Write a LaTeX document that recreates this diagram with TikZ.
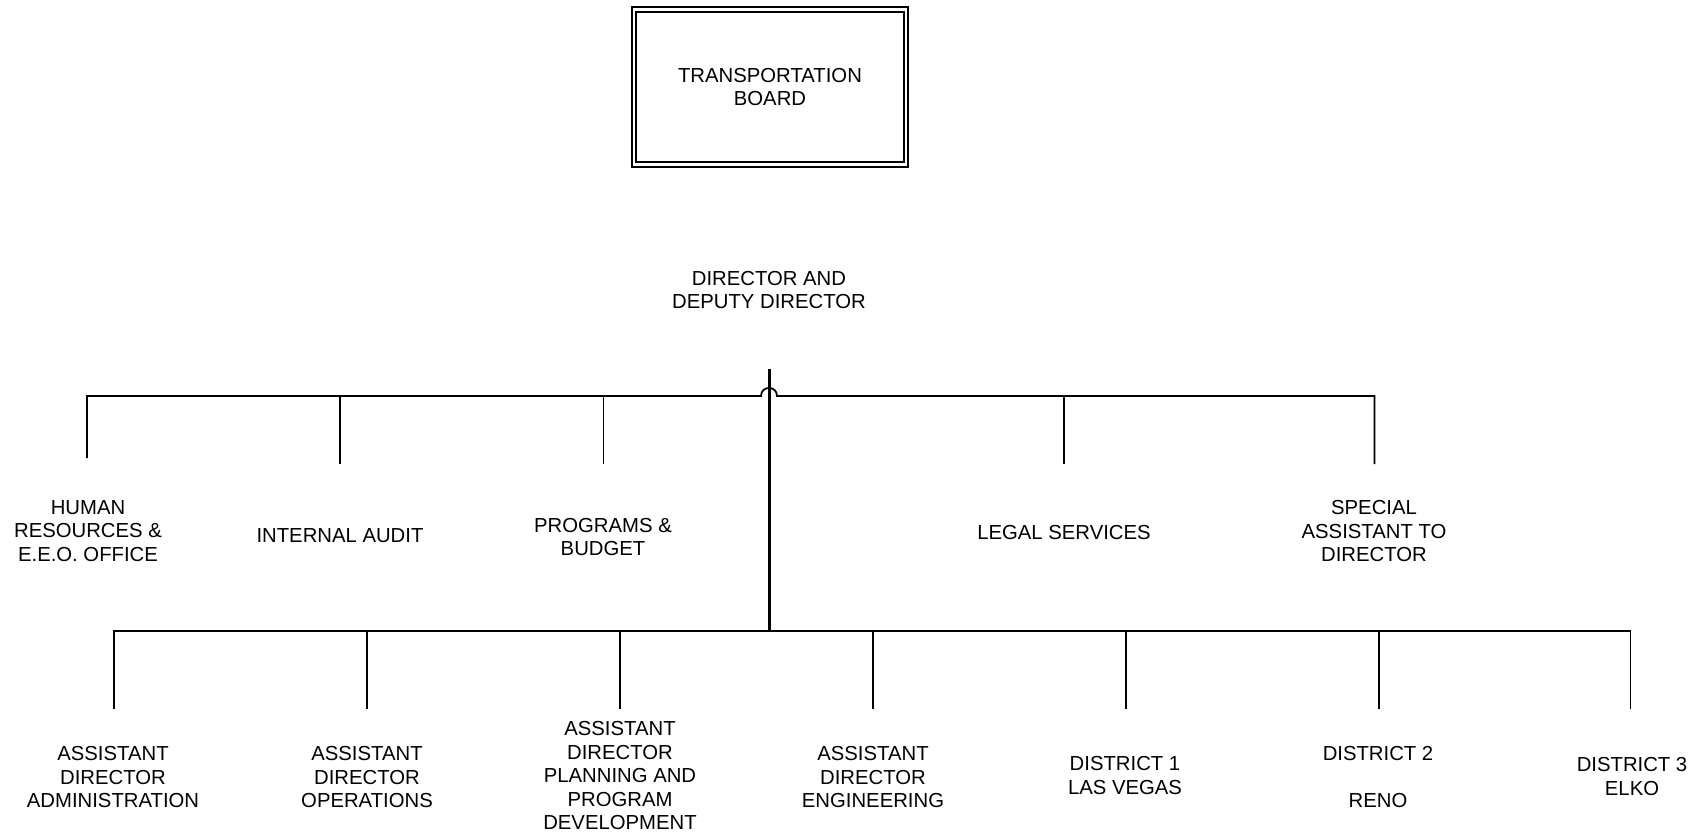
\documentclass[tikz,border=0pt]{standalone}
\usepackage{fontspec}
\setmainfont{Liberation Sans}
\begin{document}
\begin{tikzpicture}[x=1pt,y=-1pt,
  lbl/.style={align=center,inner sep=0pt,font=\fontsize{20.3}{23.5}\selectfont},
  conn/.style={line width=1.8pt},
  trunk/.style={line width=3pt},
  board/.style={draw,double,line width=2pt,double distance=2.3pt,minimum width=271.6pt,minimum height=155pt,inner sep=0pt}]
\useasboundingbox (0,0) rectangle (1702,836);
% nodes
\node[board,lbl] (board) at (770,87) {TRANSPORTATION\\BOARD};
\node[lbl] (dir) at (769,290) {DIRECTOR AND\\DEPUTY DIRECTOR};
\node[lbl] (hr) at (88,531) {HUMAN\\RESOURCES \&\\E.E.O. OFFICE};
\node[lbl] (ia) at (340,536) {INTERNAL AUDIT};
\node[lbl] (pb) at (603,537) {PROGRAMS \&\\BUDGET};
\node[lbl] (ls) at (1064,532.5) {LEGAL SERVICES};
\node[lbl] (sa) at (1374,531.5) {SPECIAL\\ASSISTANT TO\\DIRECTOR};
\node[lbl] (ada) at (113,777) {ASSISTANT\\DIRECTOR\\ADMINISTRATION};
\node[lbl] (ado) at (367,777) {ASSISTANT\\DIRECTOR\\OPERATIONS};
\node[lbl] (adp) at (620,775.5) {ASSISTANT\\DIRECTOR\\PLANNING AND\\PROGRAM\\DEVELOPMENT};
\node[lbl] (ade) at (873,777) {ASSISTANT\\DIRECTOR\\ENGINEERING};
\node[lbl] (d1) at (1125,775.5) {DISTRICT 1\\LAS VEGAS};
\node[lbl] (d2) at (1378,776.5) {DISTRICT 2\\[23.5pt]RENO};
\node[lbl] (d3) at (1632,776.5) {DISTRICT 3\\ELKO};
% coordinates
\coordinate (dirB) at (769,369);
\coordinate (busT) at (769,631);
\coordinate (jl) at (761,396);
\coordinate (jr) at (777,396);
\coordinate (hrC) at (87,458);
\coordinate (iaC) at (340,464);
\coordinate (pbC) at (603.5,464);
\coordinate (lsC) at (1064,464);
\coordinate (saC) at (1374.5,464);
\coordinate (b1) at (114,709);
\coordinate (b2) at (367,709);
\coordinate (b3) at (620,709);
\coordinate (b4) at (873,709);
\coordinate (b5) at (1125.7,709);
\coordinate (b6) at (1378.6,709);
\coordinate (b7) at (1630.5,709);
% connectors
\draw[conn] (hrC) |- (jl) .. controls +(0,-10.7) and +(0,-10.7) .. (jr) -| (saC);
\draw[conn] (iaC) -- (iaC |- jl);
\draw[conn] (pbC) -- (pbC |- jl);
\draw[conn] (lsC) -- (lsC |- jl);
\draw[conn] (b1) |- (busT) -| (b7);
\foreach \b in {b2,b3,b4,b5,b6} {\draw[conn] (\b) -- (\b |- busT);}
\draw[trunk] (dirB) -- (busT);
\end{tikzpicture}
\end{document}
